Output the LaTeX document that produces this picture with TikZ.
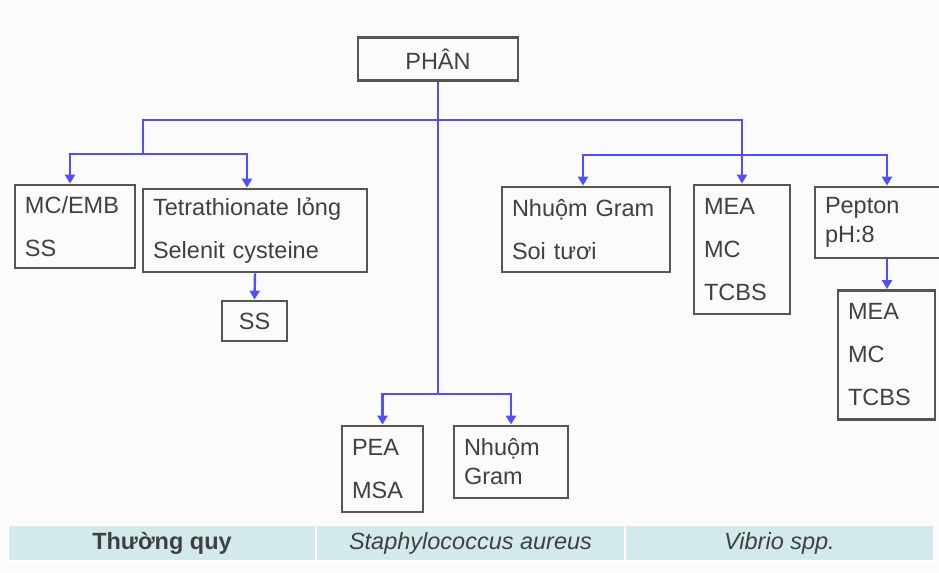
\documentclass[tikz,border=0pt]{standalone}
\usepackage{fontspec}
\setmainfont{Liberation Sans}
\usetikzlibrary{arrows.meta}
\definecolor{boxgray}{HTML}{555555}
\definecolor{txtgray}{HTML}{404040}
\definecolor{linkblue}{HTML}{4F4FFF}
\definecolor{rowteal}{HTML}{D3EAEC}
\definecolor{pagebg}{HTML}{FBFBFB}
\tikzset{
  medium/.style={draw=boxgray, line width=1.4pt, text=txtgray, inner xsep=5pt,
    inner ysep=0pt, align=left, font=\fontsize{11.75}{21.5}\selectfont},
  tight/.style={medium, font=\fontsize{11.75}{14.5}\selectfont},
  link/.style={draw=linkblue, line width=1.2pt},
  flow/.style={link, -{Triangle[width=5pt,length=4.5pt]}},
  rowcell/.style={fill=rowteal, draw=white, line width=0.6pt, minimum height=18pt,
    inner sep=0pt, text=txtgray, font=\fontsize{11.75}{14}\selectfont}
}

\begin{document}
\begin{tikzpicture}[x=0.5pt,y=-0.5pt]
  \clip (0,0) rectangle (939,573);
  \fill[pagebg] (0,0) rectangle (939,573);

  \node[medium, align=center, minimum width=80pt, minimum height=21.5pt] (phan) at (438,59) {PHÂN};

  \node[medium, text width=50pt, minimum height=41.5pt] (mcemb) at (75,226.5) {MC/EMB\\SS};
  \node[medium, text width=102pt, minimum height=41.5pt] (tetra) at (255,230.5) {Tetrathionate lỏng\\Selenit cysteine};
  \node[medium, align=center, minimum width=32.5pt, minimum height=20pt] (ss) at (254.5,321) {SS};

  \node[medium, text width=74pt, minimum height=42.5pt] (nhuom) at (586,229.5) {Nhuộm Gram\\Soi tươi};
  \node[medium, text width=38pt, minimum height=64.5pt] (mea) at (742,249.5) {MEA\\MC\\TCBS};
  \node[tight, text width=62pt, minimum height=35.5pt] (pepton) at (887,222.5) {Pepton\\pH:8};
  \node[medium, text width=38.5pt, minimum height=64.5pt] (meab) at (886.5,355) {MEA\\MC\\TCBS};

  \node[medium, text width=30.5pt, minimum height=43pt] (pea) at (382.5,469) {PEA\\MSA};
  \node[tight, text width=47pt, minimum height=36pt] (gram) at (511,462) {Nhuộm\\Gram};

  % branches
  \coordinate (jt) at (438,120);
  \coordinate (jl) at (143,154);
  \coordinate (jr) at (743,155);
  \coordinate (jb) at (438,394);

  \draw[link] (phan.south) -- (jb);
  \draw[flow] (jb) -| (pea.north);
  \draw[flow] (jb) -| (gram.north);

  \draw[link] (jl) |- (jt);
  \draw[flow] (jt) -| (mea.north);
  \draw[flow] (jl) -| ([xshift=-2.5pt]mcemb.north);
  \draw[flow] (jl) -| ([xshift=-4pt]tetra.north);
  \draw[flow] (tetra.south) -- (ss.north);

  \draw[flow] (jr) -| ([xshift=-1.5pt]nhuom.north);
  \draw[flow] (jr) -| (pepton.north);
  \draw[flow] (pepton.south) -- (pepton.south |- meab.north);

  % footer row
  \node[rowcell, minimum width=154pt] (routine) at (162,543) {\bfseries Thường quy};
  \node[rowcell, minimum width=154.5pt] (staph) at (470.5,543) {\itshape Staphylococcus aureus};
  \node[rowcell, minimum width=154.5pt] (vibrio) at (779.5,543) {\itshape Vibrio spp.};
\end{tikzpicture}
\end{document}
